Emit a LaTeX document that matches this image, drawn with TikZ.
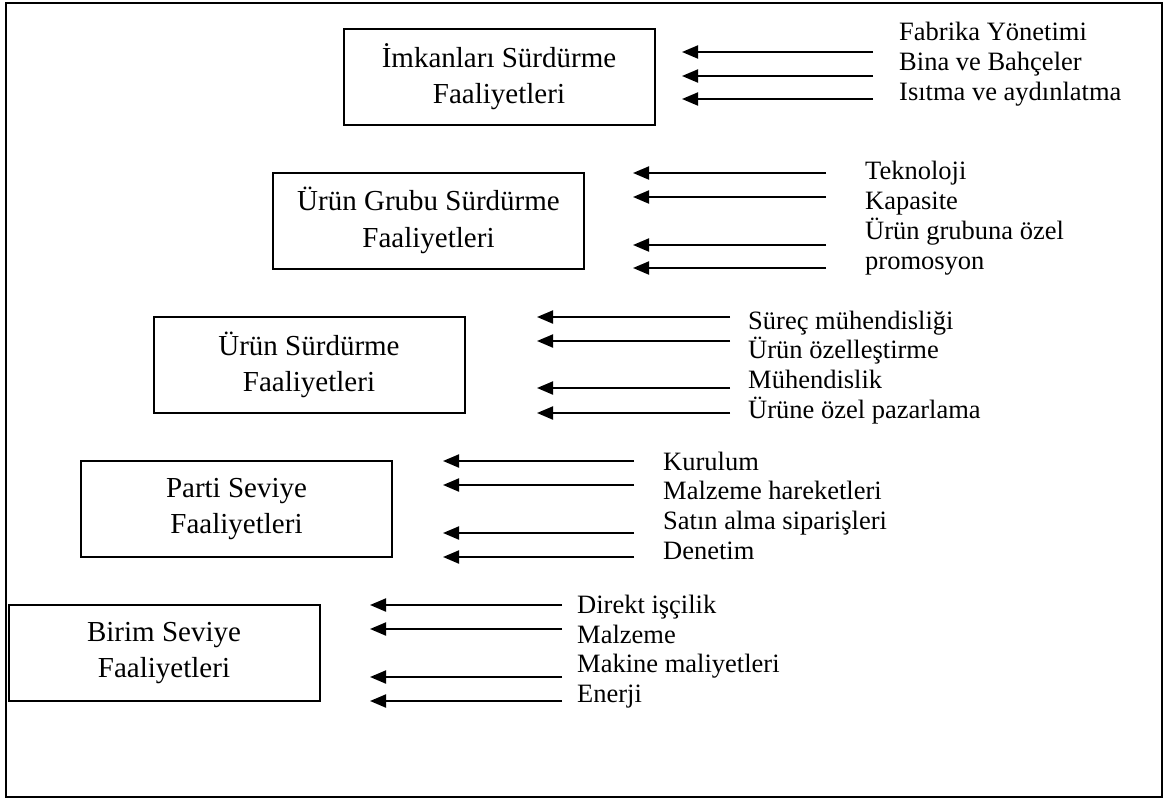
\documentclass[tikz,border=0pt]{standalone}
\usepackage{fontspec}
\setmainfont{Liberation Serif}
\usetikzlibrary{arrows.meta}
\begin{document}
\begin{tikzpicture}[x=1pt,y=-1pt,
  level/.style={draw, line width=2pt, minimum width=311pt, minimum height=96pt,
    align=center, inner sep=0pt, font=\fontsize{29}{36.5}\selectfont},
  item/.style={anchor=base west, inner sep=0pt, font=\fontsize{26.5}{30}\selectfont},
  feed/.style={line width=2pt, -{Triangle[length=16pt,width=13pt]}}]
\useasboundingbox (0,0) rectangle (1166,798);
% outer frame
\draw[line width=2pt] (6,3) rectangle (1162,797);

% activity levels
\node[level] (b1) at (499,76.5) {İmkanları Sürdürme\\Faaliyetleri};
\node[level] (b2) at (428.5,220.5) {Ürün Grubu Sürdürme\\Faaliyetleri};
\node[level] (b3) at (309,365) {Ürün Sürdürme\\Faaliyetleri};
\node[level] (b4) at (236.5,509) {Parti Seviye\\Faaliyetleri};
\node[level] (b5) at (164,653) {Birim Seviye\\Faaliyetleri};

% cost items, facility level
\node[item] (t11) at (899,40) {Fabrika Yönetimi};
\node[item] (t12) at (899,70) {Bina ve Bahçeler};
\node[item] (t13) at (899,100) {Isıtma ve aydınlatma};
% product group level
\node[item] (t21) at (865,179) {Teknoloji};
\node[item] (t22) at (865,209) {Kapasite};
\node[item] (t23) at (865,239) {Ürün grubuna özel};
\node[item] (t24) at (865,269) {promosyon};
% product level
\node[item] (t31) at (748,329) {Süreç mühendisliği};
\node[item] (t32) at (748,358.7) {Ürün özelleştirme};
\node[item] (t33) at (748,388.4) {Mühendislik};
\node[item] (t34) at (748,418) {Ürüne özel pazarlama};
% batch level
\node[item] (t41) at (663,470) {Kurulum};
\node[item] (t42) at (663,499.7) {Malzeme hareketleri};
\node[item] (t43) at (663,529.4) {Satın alma siparişleri};
\node[item] (t44) at (663,559) {Denetim};
% unit level
\node[item] (t51) at (577,613) {Direkt işçilik};
\node[item] (t52) at (577,643) {Malzeme};
\node[item] (t53) at (577,672.5) {Makine maliyetleri};
\node[item] (t54) at (577,702) {Enerji};

% arrow ends
\foreach \y [count=\i] in {52,76,99}{
  \coordinate (s1\i) at (873,\y); \coordinate (e1\i) at (682,\y);}
\foreach \y [count=\i] in {173,197,245,268}{
  \coordinate (s2\i) at (826,\y); \coordinate (e2\i) at (633,\y);}
\foreach \y [count=\i] in {317,341,388,413}{
  \coordinate (s3\i) at (730,\y); \coordinate (e3\i) at (537,\y);}
\foreach \y [count=\i] in {461,485,533,557}{
  \coordinate (s4\i) at (634,\y); \coordinate (e4\i) at (443,\y);}
\foreach \y [count=\i] in {605,629,677,701}{
  \coordinate (s5\i) at (562,\y); \coordinate (e5\i) at (370,\y);}

% arrows
\foreach \i in {1,2,3}{\draw[feed] (s1\i) -- (e1\i);}
\foreach \g in {2,3,4,5}{
  \foreach \i in {1,2,3,4}{\draw[feed] (s\g\i) -- (e\g\i);}}
\end{tikzpicture}
\end{document}
